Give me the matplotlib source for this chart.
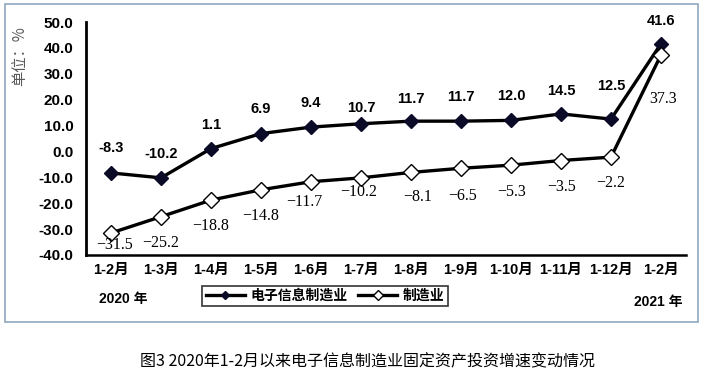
# plot.py
# 2020年1-2月以来电子信息制造业固定资产投资增速变动情况
import matplotlib
matplotlib.use('Agg')
import matplotlib.pyplot as plt
from matplotlib.patches import Rectangle

CJK = ['Liberation Sans', 'Noto Sans CJK SC', 'DejaVu Sans']
plt.rcParams['font.family'] = CJK

months = ['1-2月', '1-3月', '1-4月', '1-5月', '1-6月', '1-7月', '1-8月',
          '1-9月', '1-10月', '1-11月', '1-12月', '1-2月']
electronics = [-8.3, -10.2, 1.1, 6.9, 9.4, 10.7, 11.7, 11.7, 12.0, 14.5, 12.5, 41.6]
manufacturing = [-31.5, -25.2, -18.8, -14.8, -11.7, -10.2, -8.1, -6.5, -5.3, -3.5, -2.2, 37.3]
yticks = [-40, -30, -20, -10, 0, 10, 20, 30, 40, 50]

# label offsets in pixels (dx, dy), dy positive = up
elec_off = [(0, 25), (0, 24), (0, 24), (0, 25), (0, 24), (0, 16),
            (0, 22), (0, 24), (0, 24), (0, 23), (0, 33), (0, 23)]
manu_off = [(4, -12), (0, -26), (0, -26), (0, -26), (-7, -20), (-2, -14),
            (7, -25), (2, -28), (1, -27), (1, -26), (0, -26), (2, -44)]

DPI = 100
fig = plt.figure(figsize=(7.06, 3.82), dpi=DPI)
fig.patch.set_facecolor('white')

# outer frame
fig.patches.append(Rectangle((5 / 706, 1 - 322 / 382), 693 / 706, 318 / 382,
                             transform=fig.transFigure, fill=False,
                             edgecolor='#8fa8c0', linewidth=1.2))

ax = fig.add_axes([86 / 706, 1 - 255 / 382, 600 / 706, 233 / 382])
x = list(range(len(months)))

ax.plot(x, electronics, color='black', linewidth=2.4, marker='D',
        markersize=7, markerfacecolor='#0b0b28', markeredgecolor='#0b0b28',
        label='电子信息制造业', zorder=3)
ax.plot(x, manufacturing, color='black', linewidth=2.4, marker='D',
        markersize=8, markerfacecolor='white', markeredgecolor='black',
        markeredgewidth=1.0, label='制造业', zorder=3)

px = 72 / DPI
for i, v in enumerate(electronics):
    dx, dy = elec_off[i]
    ax.annotate(f'{v:.1f}', (i, v), xytext=(dx * px, dy * px),
                textcoords='offset points', ha='center', va='center',
                fontsize=10.5, fontweight='bold', family='Liberation Sans')
for i, v in enumerate(manufacturing):
    dx, dy = manu_off[i]
    ax.annotate(f'{v:.1f}'.replace('-', '−'), (i, v), xytext=(dx * px, dy * px),
                textcoords='offset points', ha='center', va='center',
                fontsize=11.5, family=['Liberation Serif', 'DejaVu Serif'])

ax.set_xlim(-0.5, len(months) - 0.5)
ax.set_ylim(-40, 50)
ax.set_yticks(yticks)
ax.set_yticklabels([f'{t:.1f}' for t in yticks], fontsize=11, fontweight='bold')
ax.set_xticks(x)
ax.set_xticklabels(months, fontsize=10.5, fontweight='bold')
ax.tick_params(axis='both', length=0)
ax.tick_params(axis='y', pad=9)
ax.tick_params(axis='x', pad=6)
for s in ['top', 'right']:
    ax.spines[s].set_visible(False)
ax.spines['left'].set_linewidth(2)
ax.spines['bottom'].set_linewidth(1.8)

leg = ax.legend(loc='center', bbox_to_anchor=(325 / 706, 1 - 296 / 382),
                bbox_transform=fig.transFigure, ncol=2, frameon=True,
                fancybox=False, edgecolor='black', markerscale=0.6,
                handlelength=2.8, handletextpad=0.4, columnspacing=0.8,
                borderpad=0.25, prop={'weight': 'bold', 'size': 10})
leg.get_frame().set_linewidth(1.2)

fig.text(20 / 706, 1 - 56 / 382, '单位：%', rotation=90, ha='center', va='center',
         fontsize=11, color='#595959', family=['Noto Sans CJK SC'])
fig.text(123 / 706, 1 - 299 / 382, '2020 年', ha='center', va='center',
         fontsize=10, fontweight='bold')
fig.text(658 / 706, 1 - 302 / 382, '2021 年', ha='center', va='center',
         fontsize=10, fontweight='bold')
fig.text(368 / 706, 1 - 362 / 382, '图3 2020年1-2月以来电子信息制造业固定资产投资增速变动情况',
         ha='center', va='center', fontsize=11.5,
         family=['Noto Sans CJK SC', 'DejaVu Sans'])

fig.savefig('out.png', dpi=DPI)
